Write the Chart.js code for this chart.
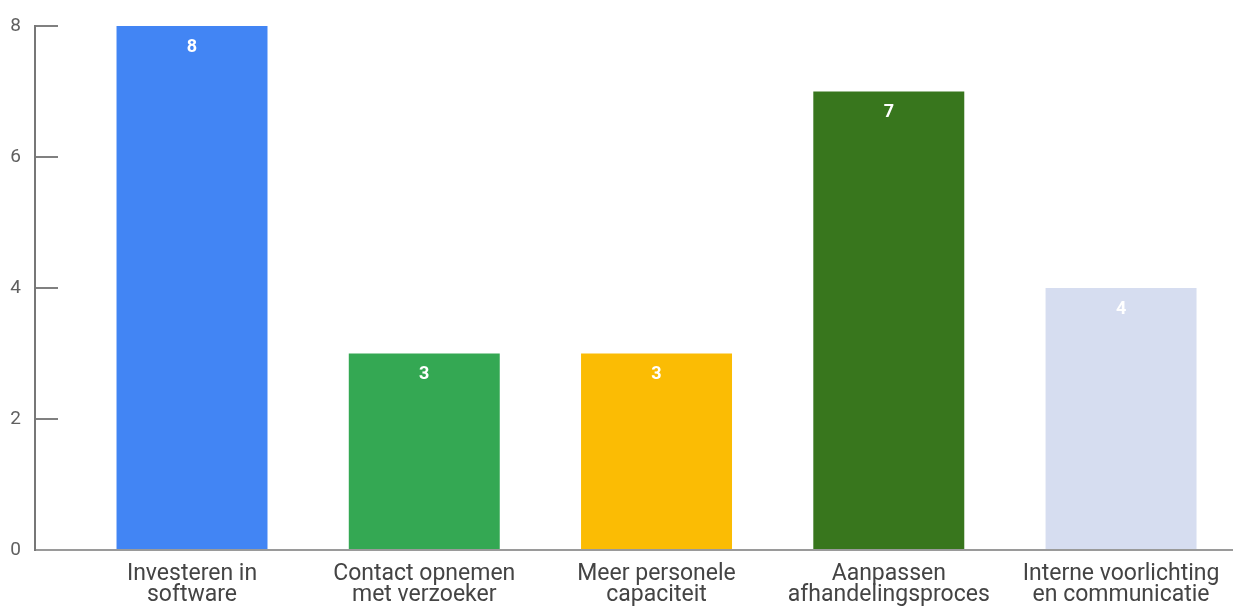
<!DOCTYPE html>
<html>
<head>
<meta charset="utf-8">
<script src="https://cdn.jsdelivr.net/npm/chart.js@4/dist/chart.umd.min.js"></script>
<style>
  html, body { margin: 0; padding: 0; background: #ffffff; }
  #wrap { width: 1233px; height: 607px; position: relative; }
</style>
</head>
<body>
<div id="wrap"><canvas id="chart"></canvas></div>
<script>
// Answers and how many times each was chosen
const categories = [
  ['Investeren in', 'software'],
  ['Contact opnemen', 'met verzoeker'],
  ['Meer personele', 'capaciteit'],
  ['Aanpassen', 'afhandelingsproces'],
  ['Interne voorlichting', 'en communicatie']
];
const counts = [8, 3, 3, 7, 4];
const barColors = ['#4285f4', '#34a853', '#fbbc04', '#38761d', '#d6ddf0'];
const yTicks = [0, 2, 4, 6, 8];

// White count printed just inside the top of each bar
const valueLabels = {
  id: 'valueLabels',
  afterDatasetsDraw(chart) {
    const ctx = chart.ctx;
    const meta = chart.getDatasetMeta(0);
    ctx.save();
    ctx.fillStyle = '#ffffff';
    ctx.font = 'bold 18px Roboto';
    ctx.textAlign = 'center';
    ctx.textBaseline = 'middle';
    meta.data.forEach((bar, i) => {
      ctx.fillText(String(counts[i]), bar.x, bar.y + 21);
    });
    ctx.restore();
  }
};

new Chart(document.getElementById('chart'), {
  type: 'bar',
  data: {
    datasets: [{
      data: counts.map((v, i) => ({ x: i, y: v })),
      backgroundColor: barColors,
      borderWidth: 0,
      categoryPercentage: 1,
      barPercentage: 0.65
    }]
  },
  options: {
    responsive: true,
    maintainAspectRatio: false,
    animation: false,
    layout: { padding: { top: 26, right: 0, bottom: 0, left: 0 } },
    plugins: { legend: { display: false }, tooltip: { enabled: false } },
    scales: {
      x: {
        type: 'linear',
        offset: false,
        min: -0.676,
        max: 4.482,
        afterBuildTicks(scale) {
          scale.ticks = categories.map((c, i) => ({ value: i }));
        },
        afterFit(scale) {
          scale.height = 57;
          scale.paddingLeft = 0;
          scale.paddingRight = 0;
        },
        grid: { display: false, drawTicks: false, offset: false },
        border: { display: true, color: '#9a9a9a', width: 2 },
        ticks: {
          autoSkip: false,
          maxRotation: 0,
          padding: 14,
          color: '#444444',
          font: { family: 'Roboto', size: 23, lineHeight: '21px' },
          callback: (value) => categories[value]
        }
      },
      y: {
        min: 0,
        max: 8,
        afterBuildTicks(scale) {
          scale.ticks = yTicks.map(v => ({ value: v }));
        },
        afterFit(scale) {
          scale.width = 35;
          scale.paddingTop = 0;
          scale.paddingBottom = 0;
        },
        grid: { drawOnChartArea: false, drawTicks: true, tickLength: -23, color: '#808080', lineWidth: 2 },
        border: { display: true, color: '#777777', width: 2 },
        ticks: {
          padding: 37,
          color: '#606060',
          font: { family: 'Roboto', size: 19 }
        }
      }
    }
  },
  plugins: [valueLabels]
});
</script>
</body>
</html>
